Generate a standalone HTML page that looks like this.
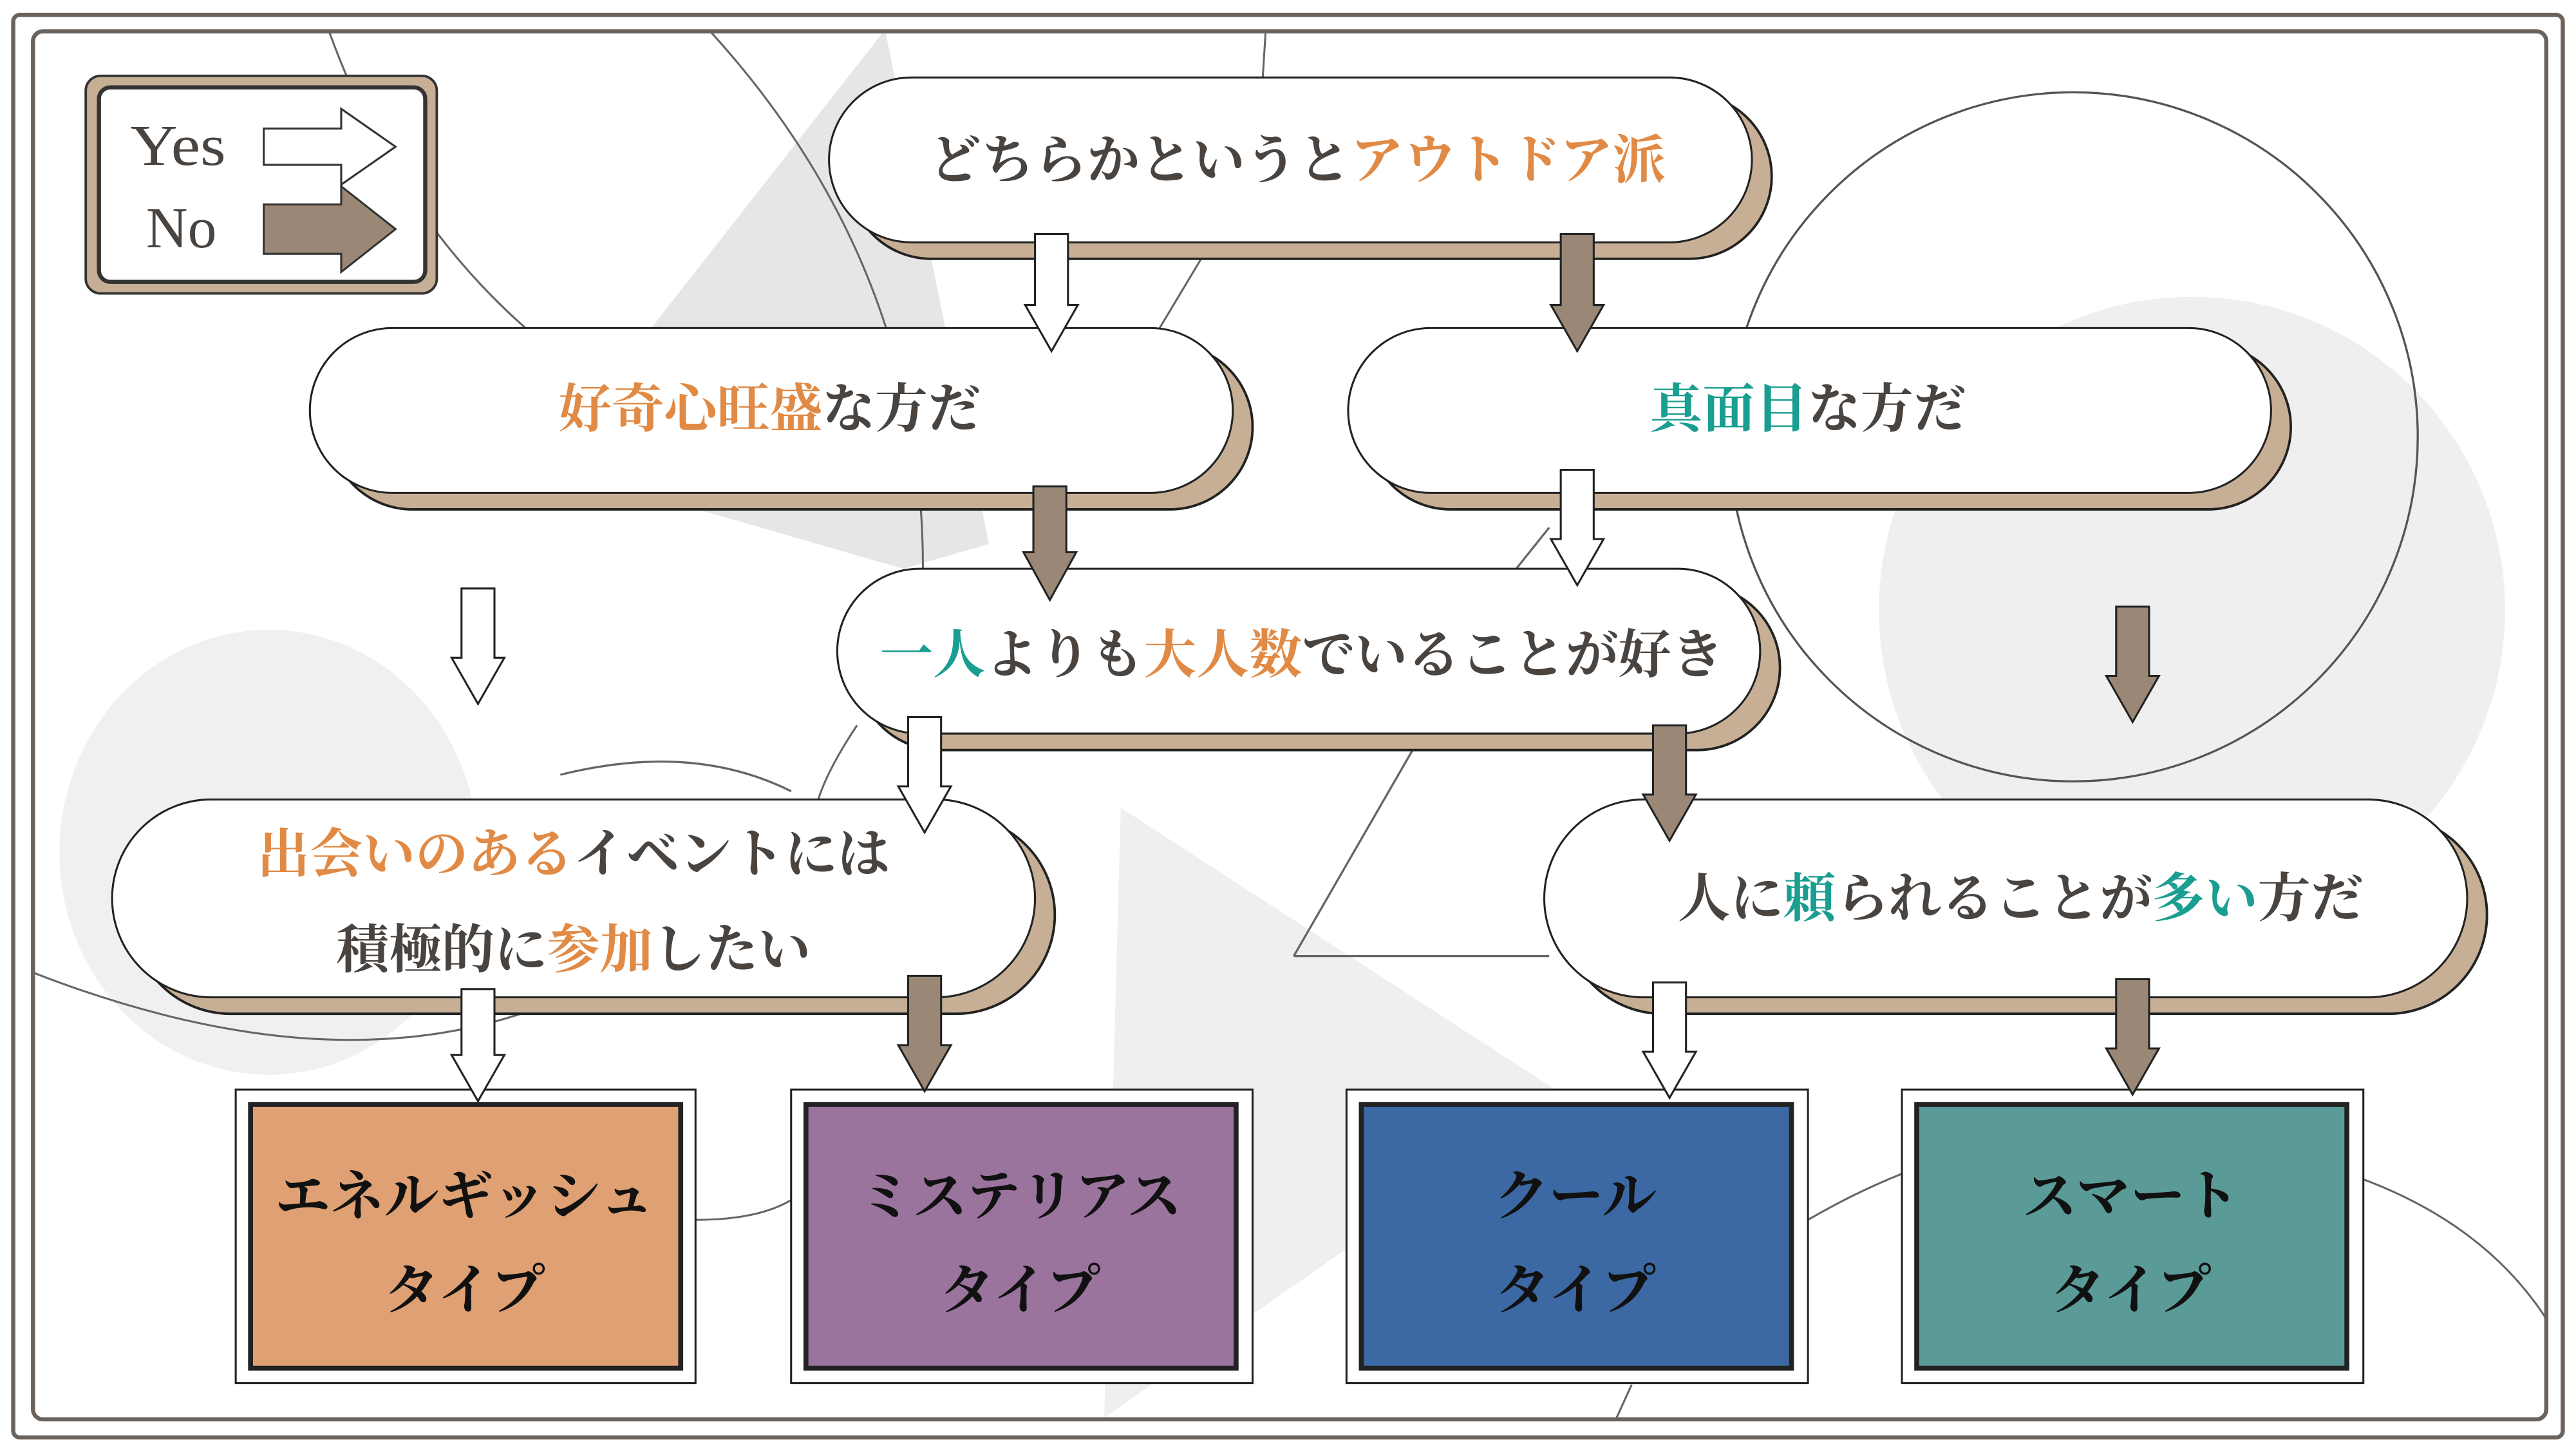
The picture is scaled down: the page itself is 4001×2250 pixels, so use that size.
<!DOCTYPE html>
<html><head><meta charset="utf-8"><style>
html,body{margin:0;padding:0;background:#fff}
svg{display:block}
text{font-family:"Liberation Serif","Noto Serif CJK JP","Noto Serif CJK SC",serif;font-weight:700}
</style></head><body>
<svg width="4001" height="2250" viewBox="0 0 1563 879" xmlns="http://www.w3.org/2000/svg">
<rect x="0" y="0" width="1563" height="879" fill="#fff"/>
<!-- background decorations -->
<circle cx="1330" cy="370" r="190" fill="#efefef"/>
<ellipse cx="163" cy="517" rx="127" ry="135" fill="#f0f0f0"/>
<polygon points="537,18 330,282 548,345 600,330" fill="#e6e6e6"/>
<polygon points="680,490 950,665 670,860" fill="#efefef"/>
<circle cx="1258" cy="265" r="209" fill="none" stroke="#555" stroke-width="1.3"/>
<path d="M430,18 Q560,160 560,345" fill="none" stroke="#666" stroke-width="1.2"/>
<path d="M200,20 Q240,130 320,200" fill="none" stroke="#666" stroke-width="1.2"/>
<path d="M768,18 L766,50" fill="none" stroke="#666" stroke-width="1.2"/>
<path d="M733,150 L700,205" fill="none" stroke="#666" stroke-width="1.2"/>
<path d="M785,580 L860,450 M785,580 L940,580 M940,320 L920,345" fill="none" stroke="#666" stroke-width="1.3"/>
<path d="M20,590 Q200,660 330,610" fill="none" stroke="#666" stroke-width="1.2"/>
<path d="M340,470 Q420,450 480,480" fill="none" stroke="#666" stroke-width="1.3"/>
<path d="M520,440 Q500,470 495,490" fill="none" stroke="#666" stroke-width="1.2"/>
<path d="M422,740 Q460,740 480,728" fill="none" stroke="#666" stroke-width="1.2"/>
<path d="M1097,740 Q1200,680 1300,690 Q1480,700 1545,800" fill="none" stroke="#666" stroke-width="1.2"/>
<path d="M990,840 L980,862" fill="none" stroke="#666" stroke-width="1.2"/>
<!-- frames -->
<rect x="8" y="9" width="1547" height="863" rx="4" fill="none" stroke="#6a625c" stroke-width="2.5"/>
<rect x="20" y="19" width="1525" height="842" rx="6" fill="none" stroke="#6a625c" stroke-width="2.5"/>
<!-- legend -->
<rect x="52" y="46" width="213" height="132" rx="9" fill="#c7af95" stroke="#333" stroke-width="1.5"/>
<rect x="60" y="53" width="198" height="118" rx="7" fill="#fff" stroke="#333" stroke-width="2.5"/>
<text x="108" y="100" font-size="35" fill="#4a4440" text-anchor="middle" style="font-weight:400" textLength="58" lengthAdjust="spacingAndGlyphs">Yes</text>
<text x="110" y="150" font-size="35" fill="#4a4440" text-anchor="middle" style="font-weight:400">No</text>
<polygon points="160,78 207,78 207,66 240,89 207,112 207,100 160,100" fill="#fff" stroke="#333" stroke-width="1.2"/>
<polygon points="160,124 207,124 207,113 240,139 207,165 207,154 160,154" fill="#9a8776" stroke="#333" stroke-width="1.2"/>
<!-- nodes -->
<g stroke="#222" stroke-width="1.5">
<rect x="515" y="57" width="560" height="100" rx="50" fill="#c7af95"/>
<rect x="503" y="47" width="560" height="100" rx="50" fill="#fff" stroke-width="1.2"/>
<rect x="200" y="209" width="560" height="100" rx="50" fill="#c7af95"/>
<rect x="188" y="199" width="560" height="100" rx="50" fill="#fff" stroke-width="1.2"/>
<rect x="830" y="209" width="560" height="100" rx="50" fill="#c7af95"/>
<rect x="818" y="199" width="560" height="100" rx="50" fill="#fff" stroke-width="1.2"/>
<rect x="520" y="355" width="560" height="100" rx="50" fill="#c7af95"/>
<rect x="508" y="345" width="560" height="100" rx="50" fill="#fff" stroke-width="1.2"/>
<rect x="80" y="495" width="560" height="120" rx="60" fill="#c7af95"/>
<rect x="68" y="485" width="560" height="120" rx="60" fill="#fff" stroke-width="1.2"/>
<rect x="949" y="495" width="560" height="120" rx="60" fill="#c7af95"/>
<rect x="937" y="485" width="560" height="120" rx="60" fill="#fff" stroke-width="1.2"/>
</g>
<g font-size="32" fill="#4a4440" text-anchor="middle">
<text x="787" y="108">どちらかというと<tspan fill="#e08a45">アウトドア派</tspan></text>
<text x="467" y="259"><tspan fill="#e08a45">好奇心旺盛</tspan>な方だ</text>
<text x="1097" y="259"><tspan fill="#1a9e90">真面目</tspan>な方だ</text>
<text x="790" y="408"><tspan fill="#1a9e90">一人</tspan>よりも<tspan fill="#e08a45">大人数</tspan>でいることが好き</text>
<text x="348" y="529"><tspan fill="#e08a45">出会いのある</tspan>イベントには</text>
<text x="348" y="587">積極的に<tspan fill="#e08a45">参加</tspan>したい</text>
<text x="1226" y="556">人に<tspan fill="#1a9e90">頼</tspan>られることが<tspan fill="#1a9e90">多い</tspan>方だ</text>
</g>
<!-- result boxes -->
<g stroke-width="1.2" stroke="#222">
<rect x="143" y="661" width="279" height="178" fill="#fff"/>
<rect x="152" y="670" width="261" height="160" fill="#dfa073" stroke-width="3"/>
<rect x="480" y="661" width="280" height="178" fill="#fff"/>
<rect x="489" y="670" width="261" height="160" fill="#9b749e" stroke-width="3"/>
<rect x="817" y="661" width="280" height="178" fill="#fff"/>
<rect x="826" y="670" width="261" height="160" fill="#3c69a4" stroke-width="3"/>
<rect x="1154" y="661" width="280" height="178" fill="#fff"/>
<rect x="1163" y="670" width="261" height="160" fill="#5a9b98" stroke-width="3"/>
</g>
<g font-size="33" fill="#111" text-anchor="middle">
<text x="282" y="737">エネルギッシュ</text><text x="282" y="794">タイプ</text>
<text x="619" y="737">ミステリアス</text><text x="619" y="794">タイプ</text>
<text x="956" y="737">クール</text><text x="956" y="794">タイプ</text>
<text x="1293" y="737">スマート</text><text x="1293" y="794">タイプ</text>
</g>
<!-- arrows -->
<g stroke="#222" stroke-width="1.2">
<polygon fill="#fff" points="628,142 648,142 648,185 654,185 638,213 622,185 628,185"/>
<polygon fill="#9a8776" points="947,142 967,142 967,185 973,185 957,213 941,185 947,185"/>
<polygon fill="#fff" points="280,357 300,357 300,399 306,399 290,427 274,399 280,399"/>
<polygon fill="#9a8776" points="627,295 647,295 647,335 653,335 637,364 621,335 627,335"/>
<polygon fill="#fff" points="947,285 967,285 967,327 973,327 957,355 941,327 947,327"/>
<polygon fill="#9a8776" points="1284,368 1304,368 1304,410 1310,410 1294,438 1278,410 1284,410"/>
<polygon fill="#fff" points="551,435 571,435 571,477 577,477 561,505 545,477 551,477"/>
<polygon fill="#9a8776" points="1003,440 1023,440 1023,482 1029,482 1013,510 997,482 1003,482"/>
<polygon fill="#fff" points="280,600 300,600 300,640 306,640 290,668 274,640 280,640"/>
<polygon fill="#9a8776" points="551,592 571,592 571,634 577,634 561,662 545,634 551,634"/>
<polygon fill="#fff" points="1003,596 1023,596 1023,638 1029,638 1013,666 997,638 1003,638"/>
<polygon fill="#9a8776" points="1284,594 1304,594 1304,636 1310,636 1294,664 1278,636 1284,636"/>
</g>
</svg>
</body></html>
